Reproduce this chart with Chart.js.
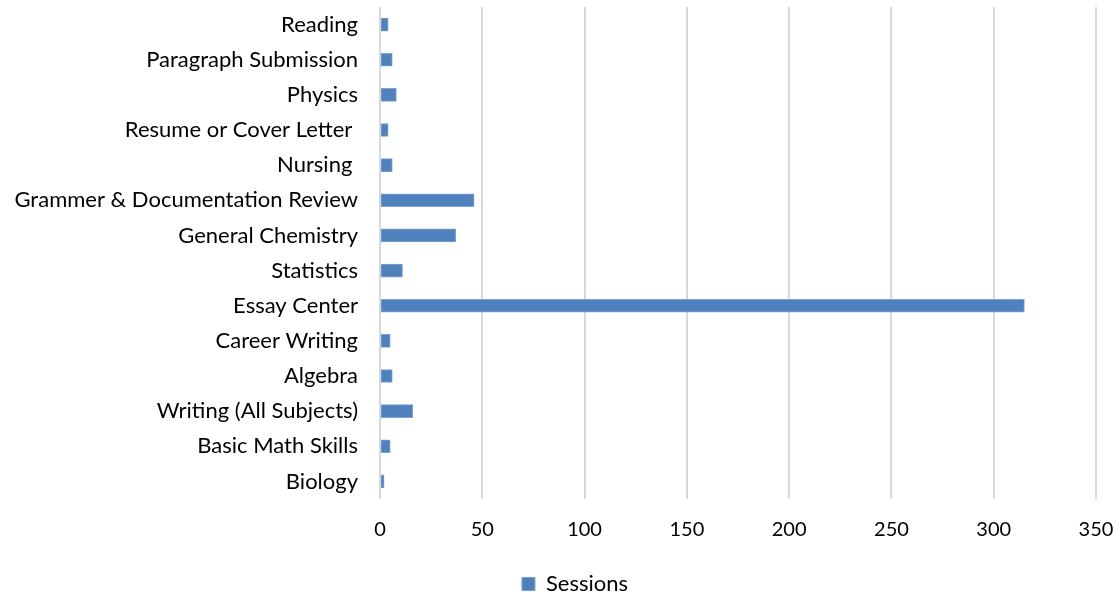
<!DOCTYPE html>
<html>
<head>
<meta charset="utf-8">
<script src="https://cdn.jsdelivr.net/npm/chart.js@4"></script>
<style>
  html, body { margin: 0; padding: 0; background: #fff; }
  #wrap { width: 1116px; height: 596px; }
</style>
</head>
<body>
<div id="wrap"><canvas id="sessionsBar"></canvas></div>
<script>
/*............ data ............*/
const categories = ['Reading', 'Paragraph Submission', 'Physics', 'Resume or Cover Letter ', 'Nursing ',
  'Grammer & Documentation Review', 'General Chemistry', 'Statistics', 'Essay Center', 'Career Writing',
  'Algebra', 'Writing (All Subjects)', 'Basic Math Skills', 'Biology'];
const sessions = [4, 6, 8, 4, 6, 46, 37, 11, 315, 5, 6, 16, 5, 2];
const xTicks = [0, 50, 100, 150, 200, 250, 300, 350];

const fontFamily = 'Lato, "Open Sans", sans-serif';

const data = {
  labels: categories,
  datasets: [{
    label: 'Sessions',
    backgroundColor: '#4f81bd',
    borderColor: '#7da2d0',
    borderWidth: 1,
    borderSkipped: false,
    barThickness: 13,
    data: sessions,
  }]
};

// the legend in the original sits a bit right of centre
const legendNudge = {
  id: 'legendNudge',
  afterLayout(chart) {
    chart.legend.left += 27;
    chart.legend.right += 27;
  }
};

const config = {
  type: 'bar',
  data: data,
  plugins: [legendNudge],
  options: {
    indexAxis: 'y',
    responsive: true,
    maintainAspectRatio: false,
    animation: false,
    layout: { padding: { top: 7, right: 20, left: 0, bottom: -9 } },
    scales: {
      x: {
        min: xTicks[0],
        max: xTicks[xTicks.length - 1],
        afterBuildTicks: (scale) => { scale.ticks = xTicks.map(v => ({ value: v })); },
        afterFit: (scale) => {
          scale.height = 54;
          scale.paddingLeft = 0;
          scale.paddingRight = 0;
        },
        border: { display: false },
        grid: { color: '#d9d9d9', lineWidth: 2, drawTicks: false },
        ticks: { color: '#000', font: { family: fontFamily, size: 20 }, padding: 19, maxRotation: 0 }
      },
      y: {
        afterFit: (scale) => {
          scale.width = 380;
          scale.paddingTop = 0;
          scale.paddingBottom = 0;
        },
        border: { display: false },
        grid: { display: false, drawTicks: false },
        ticks: { color: '#000', font: { family: fontFamily, size: 22 }, padding: 22, autoSkip: false }
      }
    },
    plugins: {
      legend: {
        position: 'bottom',
        labels: {
          color: '#000',
          font: { family: fontFamily, size: 22 },
          boxWidth: 13,
          boxHeight: 13,
          padding: 20
        }
      },
      tooltip: { enabled: false }
    }
  }
};

const ctx = document.getElementById('sessionsBar').getContext('2d');
const sessionsBar = new Chart(ctx, config);
</script>
</body>
</html>
